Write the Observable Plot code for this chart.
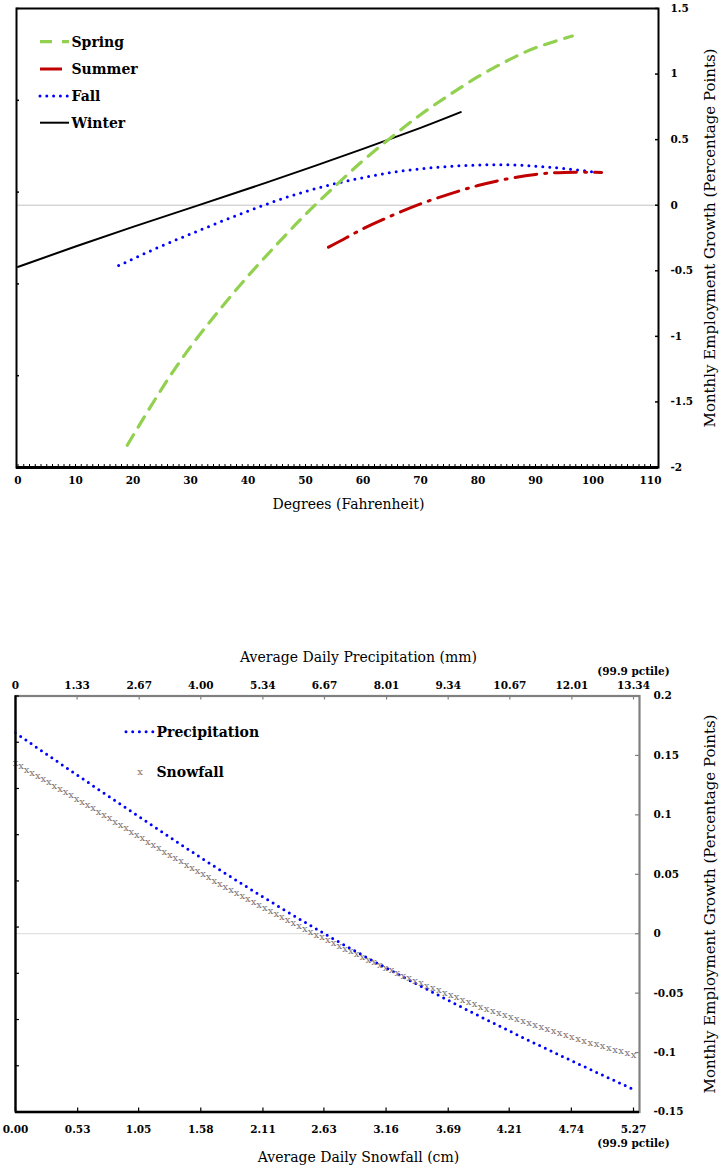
<!DOCTYPE html>
<html><head><meta charset="utf-8">
<script src="https://cdn.jsdelivr.net/npm/d3@7"></script>
<script src="https://cdn.jsdelivr.net/npm/@observablehq/plot@0.6"></script>
<style>
body{margin:0;background:#fff;}
#wrap{position:relative;width:720px;height:1165px;overflow:hidden;font-family:"DejaVu Serif",serif;background:#fff;}
.layer{position:absolute;left:0;}
</style></head><body><div id="wrap"></div>
<script>
// ---------- data: temperature panel ----------
const springX = [19, 25, 30, 35, 40, 45, 50, 55, 60, 65, 70, 75, 80, 85, 90, 96.4];
const springY = [-1.83, -1.40, -1.08, -0.80, -0.54, -0.30, -0.07, 0.14, 0.34, 0.52, 0.69, 0.84, 0.98, 1.10, 1.20, 1.29];
const summerX = [54, 57, 60, 65, 70, 75, 80, 85, 90, 95, 101.5];
const summerY = [-0.32, -0.25, -0.18, -0.08, 0.01, 0.085, 0.15, 0.20, 0.235, 0.25, 0.25];
const fallX = [17.5, 20, 25, 30, 35, 40, 45, 50, 55, 60, 65, 70, 75, 80, 85, 90, 95, 100.7];
const fallY = [-0.46, -0.41, -0.31, -0.22, -0.13, -0.045, 0.035, 0.105, 0.163, 0.21, 0.25, 0.277, 0.296, 0.306, 0.308, 0.298, 0.28, 0.25];
const winterX = [0, 10, 20, 30, 40, 50, 60, 70, 77];
const winterY = [-0.47, -0.315, -0.165, -0.02, 0.125, 0.275, 0.43, 0.59, 0.71];
const seasons = ["Spring", "Summer", "Fall", "Winter"];
const tempXTicks = [0, 10, 20, 30, 40, 50, 60, 70, 80, 90, 100, 110];
const tempXMinor = [0,1,2,3,4,5,6,7,8,9,10,11,12,13,14,15,16,17,18,19,20,21,22,23,24,25,26,27,28,29,30,31,32,33,34,35,36,37,38,39,40,41,42,43,44,45,46,47,48,49,50,51,52,53,54,55,56,57,58,59,60,61,62,63,64,65,66,67,68,69,70,71,72,73,74,75,76,77,78,79,80,81,82,83,84,85,86,87,88,89,90,91,92,93,94,95,96,97,98,99,100,101,102,103,104,105,106,107,108,109,110];
const tempYTicks = [-2, -1.5, -1, -0.5, 0, 0.5, 1, 1.5];
const tempYLabels = ["-2", "-1.5", "-1", "-0.5", "0", "0.5", "1", "1.5"];
const tempLeftTicks = [1.5, 0.8, 0.1, -0.6, -1.3, -2];
const tempXTitle = "Degrees (Fahrenheit)";
const yTitle = "Monthly Employment Growth (Percentage Points)";

// ---------- data: precipitation / snowfall panel ----------
const precipX = [0, 1.33, 2.67, 4.00, 5.34, 6.67, 8.01, 9.34, 10.67, 12.01, 13.34];
const precipY = [0.169, 0.1335, 0.0985, 0.064, 0.031, 0.000, -0.029, -0.056, -0.082, -0.107, -0.131];
const snowX = [0, 0.53, 1.05, 1.58, 2.11, 2.63, 3.16, 3.69, 4.21, 4.74, 5.27];
const snowY = [0.1433, 0.113, 0.082, 0.051, 0.022, -0.004, -0.029, -0.051, -0.070, -0.087, -0.102];
const precipTicks = [0, 1.33, 2.67, 4.00, 5.34, 6.67, 8.01, 9.34, 10.67, 12.01, 13.34];
const precipLabels = ["0", "1.33", "2.67", "4.00", "5.34", "6.67", "8.01", "9.34", "10.67", "12.01", "(99.9 pctile)\n13.34"];
const snowTicks = [0, 0.53, 1.05, 1.58, 2.11, 2.63, 3.16, 3.69, 4.21, 4.74, 5.27];
const snowLabels = ["0.00", "0.53", "1.05", "1.58", "2.11", "2.63", "3.16", "3.69", "4.21", "4.74", "5.27\n(99.9 pctile)"];
const empTicks = [-0.15, -0.1, -0.05, 0, 0.05, 0.1, 0.15, 0.2];
const empLabels = ["-0.15", "-0.1", "-0.05", "0", "0.05", "0.1", "0.15", "0.2"];
const empLeftTicks = [0.2, 0.1611, 0.1222, 0.0833, 0.0444, 0.0056, -0.0333, -0.0722, -0.1111, -0.15];
const precipTitle = "Average Daily Precipitation (mm)";
const snowTitle = "Average Daily Snowfall (cm)";
const bottomSeries = ["Precipitation", "Snowfall"];

// ---------- styles ----------
const FONT = '"DejaVu Serif", serif';
const GREEN = "#92D050", RED = "#C00000", BLUE = "#0000FF", BLACK = "#000000", SNOW = "#7f716d", GRAY = "#808080";
const wrap = document.getElementById("wrap");
const W = 720;
const zip = (xs, ys) => xs.map((x, i) => ({x, y: ys[i]}));
const lab = (ticks, labels) => d => labels[ticks.indexOf(d)];
const titleOpts = {text: d => d, fontSize: 14, fontWeight: "normal", textAnchor: "middle", lineAnchor: "middle"};

// ---------- top panel ----------
const T = {h: 520, mt: 8, mb: 53, ml: 16, mr: 62};
const tFW = W - T.ml - T.mr, tFH = T.h - T.mt - T.mb;
const topPlot = Plot.plot({
  width: W, height: T.h, marginTop: T.mt, marginBottom: T.mb, marginLeft: T.ml, marginRight: T.mr,
  style: {fontFamily: FONT, fontWeight: "bold", background: "transparent", overflow: "visible", color: "black"},
  x: {domain: [0, 110], range: [17.5, 650]},
  y: {domain: [-2, 1.5]},
  marks: [
    Plot.ruleY([0], {stroke: "#b5b5b5", strokeWidth: 0.8}),
    Plot.line(zip(winterX, winterY), {x: "x", y: "y", stroke: BLACK, strokeWidth: 2, curve: "natural"}),
    Plot.line(zip(fallX, fallY), {x: "x", y: "y", stroke: BLUE, strokeWidth: 3, strokeDasharray: "0 7", strokeLinecap: "round", curve: "natural"}),
    Plot.line(zip(summerX, summerY), {x: "x", y: "y", stroke: RED, strokeWidth: 3, strokeDasharray: "22 8 2 8", curve: "natural"}),
    Plot.line(zip(springX, springY), {x: "x", y: "y", stroke: GREEN, strokeWidth: 3.2, strokeDasharray: "12 9", curve: "natural"}),
    Plot.frame({stroke: BLACK, strokeWidth: 2}),
    Plot.ruleY([-2], {stroke: BLACK, strokeWidth: 3}),
    Plot.tickX(tempXMinor, {x: d => d, insetTop: tFH - 3, stroke: BLACK, strokeWidth: 1}),
    Plot.tickY(tempYTicks, {y: d => d, insetLeft: tFW - 3, stroke: BLACK, strokeWidth: 1.5}),
    Plot.tickY(tempLeftTicks, {y: d => d, insetRight: tFW - 3, stroke: BLACK, strokeWidth: 1.5}),
    Plot.axisX(tempXTicks, {tickSize: 0, tickPadding: 9, fontSize: 10.5, label: null, tickFormat: d => String(d)}),
    Plot.axisY(tempYTicks, {anchor: "right", tickSize: 0, tickPadding: 12, fontSize: 10.5, label: null, tickFormat: lab(tempYTicks, tempYLabels)}),
    Plot.text([tempXTitle], {...titleOpts, frameAnchor: "bottom", dy: 37, dx: 11}),
    Plot.text([yTitle], {...titleOpts, fontSize: 15, frameAnchor: "right", dx: 52, rotate: -90})
  ]
});
topPlot.classList.add("layer");
topPlot.style.top = "0px";
wrap.appendChild(topPlot);

// ---------- bottom panel ----------
const BT = 640;
const B = {h: 525, mt: 55.5, mb: 53.5, ml: 15, mr: 81};
const bFW = W - B.ml - B.mr, bFH = B.h - B.mt - B.mb;
const common = {
  width: W, height: B.h, marginTop: B.mt, marginBottom: B.mb, marginLeft: B.ml, marginRight: B.mr,
  style: {fontFamily: FONT, fontWeight: "bold", background: "transparent", overflow: "visible", color: "black"},
  y: {domain: [-0.15, 0.2], axis: null}
};
const precipPlot = Plot.plot({
  ...common,
  x: {domain: [0, 13.34], range: [15, 633]},
  marks: [
    Plot.ruleY([0], {stroke: "#cfcfcf", strokeWidth: 0.8}),
    Plot.line(zip(precipX, precipY), {x: "x", y: "y", stroke: BLUE, strokeWidth: 3, strokeDasharray: "0 6.3", strokeLinecap: "round", curve: "natural"}),
    Plot.frame({stroke: GRAY, strokeWidth: 2.2}),
    Plot.tickX(precipTicks, {x: d => d, insetBottom: bFH - 4, stroke: GRAY, strokeWidth: 1.2}),
    Plot.tickY(empTicks, {y: d => d, insetLeft: bFW - 4, stroke: GRAY, strokeWidth: 1.2}),
    Plot.axisX(precipTicks, {anchor: "top", tickSize: 0, tickPadding: 7, fontSize: 10.5, lineHeight: 1.35, label: null, tickFormat: lab(precipTicks, precipLabels)}),
    Plot.axisY(empTicks, {anchor: "right", tickSize: 0, tickPadding: 14, fontSize: 10.5, label: null, tickFormat: lab(empTicks, empLabels)}),
    Plot.text([precipTitle], {...titleOpts, frameAnchor: "top", dy: -38.5, dx: 31}),
    Plot.text([yTitle], {...titleOpts, fontSize: 15, frameAnchor: "right", dx: 71, rotate: -90})
  ]
});
precipPlot.classList.add("layer");
precipPlot.style.top = BT + "px";
wrap.appendChild(precipPlot);

const snowPlot = Plot.plot({
  ...common,
  x: {domain: [0, 5.27], range: [15, 633]},
  marks: [
    Plot.line(zip(snowX, snowY), {x: "x", y: "y", stroke: SNOW, strokeOpacity: 0, strokeWidth: 1, curve: "natural"}),
    Plot.ruleX([0], {stroke: BLACK, strokeWidth: 2.2}),
    Plot.ruleY([-0.15], {stroke: BLACK, strokeWidth: 2.6}),
    Plot.tickX(snowTicks, {x: d => d, insetTop: bFH - 4, stroke: BLACK, strokeWidth: 1.2}),
    Plot.tickY(empLeftTicks, {y: d => d, insetRight: bFW - 4, stroke: BLACK, strokeWidth: 1.2}),
    Plot.axisX(snowTicks, {anchor: "bottom", tickSize: 0, tickPadding: 11, fontSize: 10.5, lineHeight: 1.35, label: null, tickFormat: lab(snowTicks, snowLabels)}),
    Plot.text([snowTitle], {...titleOpts, frameAnchor: "bottom", dy: 45.5, dx: 31})
  ]
});
snowPlot.classList.add("layer");
snowPlot.style.top = BT + "px";
wrap.appendChild(snowPlot);

// snowfall "x" markers placed along the library-drawn path
(function () {
  const path = snowPlot.querySelector('g[aria-label="line"] path') || snowPlot.querySelector("path");
  if (!path) return;
  const L = path.getTotalLength();
  const n = Math.round(L / 6.4);
  const ns = "http://www.w3.org/2000/svg";
  const g = document.createElementNS(ns, "g");
  for (let i = 0; i <= n; i++) {
    const p = path.getPointAtLength(L * i / n);
    const t = document.createElementNS(ns, "text");
    t.setAttribute("x", p.x);
    t.setAttribute("y", p.y);
    t.setAttribute("dy", "0.28em");
    t.setAttribute("text-anchor", "middle");
    t.setAttribute("font-size", "10");
    t.setAttribute("font-weight", "normal");
    t.setAttribute("fill", SNOW);
    t.textContent = "x";
    g.appendChild(t);
  }
  path.parentNode.appendChild(g);
})();

// ---------- legends ----------
const ns = "http://www.w3.org/2000/svg";
const leg = document.createElementNS(ns, "svg");
leg.setAttribute("width", W); leg.setAttribute("height", 1165);
leg.setAttribute("class", "layer"); leg.style.top = "0px";
leg.style.fontFamily = FONT;
function addLine(x1, x2, y, stroke, sw, dash, cap) {
  const l = document.createElementNS(ns, "line");
  l.setAttribute("x1", x1); l.setAttribute("x2", x2); l.setAttribute("y1", y); l.setAttribute("y2", y);
  l.setAttribute("stroke", stroke); l.setAttribute("stroke-width", sw);
  if (dash) l.setAttribute("stroke-dasharray", dash);
  if (cap) l.setAttribute("stroke-linecap", cap);
  leg.appendChild(l);
}
function addText(x, y, s, size, weight, fill) {
  const t = document.createElementNS(ns, "text");
  t.setAttribute("x", x); t.setAttribute("y", y); t.setAttribute("dy", "0.35em");
  t.setAttribute("font-size", size); t.setAttribute("font-weight", weight); t.setAttribute("fill", fill || "black");
  t.textContent = s; leg.appendChild(t);
}
const topStyles = [
  [GREEN, 3.2, "12 10", null],
  [RED, 3, "22 8 2 8", null],
  [BLUE, 3, "0 6.8", "round"],
  [BLACK, 2, null, null]
];
const topLegY = [41.7, 69, 96, 122.7];
seasons.forEach((s, i) => {
  const [c, w, d, cap] = topStyles[i];
  addLine(40, 69, topLegY[i], c, w, d, cap);
  addText(71.5, topLegY[i], s, 14, "bold");
});
addLine(126, 153, 731.7, BLUE, 3, "0 6.7", "round");
addText(156.5, 731.7, bottomSeries[0], 14, "bold");
const xg = document.createElementNS(ns, "text");
xg.setAttribute("x", 140); xg.setAttribute("y", 771.7); xg.setAttribute("dy", "0.28em");
xg.setAttribute("text-anchor", "middle"); xg.setAttribute("font-size", 10); xg.setAttribute("fill", SNOW);
xg.textContent = "x"; leg.appendChild(xg);
addText(156.5, 771.7, bottomSeries[1], 14, "bold");
wrap.appendChild(leg);
</script></body></html>
